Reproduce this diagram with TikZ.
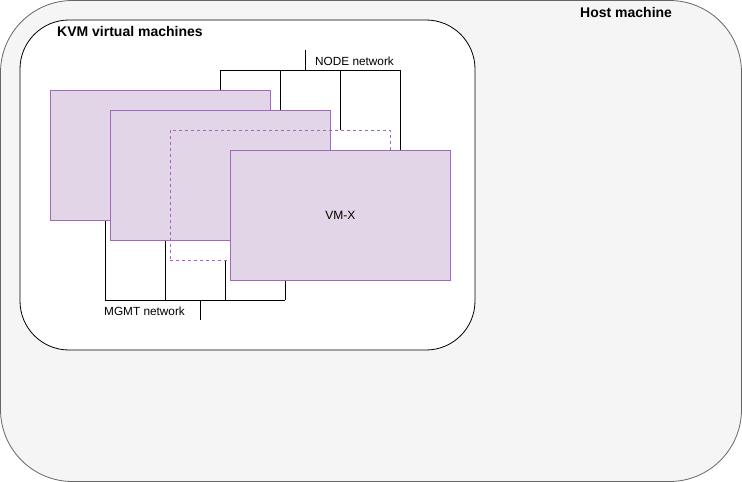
\documentclass[tikz,border=0pt]{standalone}
\usepackage{fontspec}
\setmainfont{Liberation Sans}
\begin{document}
\begin{tikzpicture}[x=1pt,y=-1pt,
  vmbox/.style={draw=vmstroke,fill=vmfill,line width=0.8pt,rectangle,minimum width=220pt,minimum height=130pt,anchor=north west,inner sep=0pt,font=\fontsize{12}{14}\selectfont},
  netline/.style={draw=black,line width=0.8pt},
  lbl/.style={font=\fontsize{11.8}{13}\selectfont,inner sep=0pt},
  ttl/.style={font=\bfseries\fontsize{14}{16}\selectfont,inner sep=0pt}]
\definecolor{vmfill}{HTML}{E1D5E7}
\definecolor{vmstroke}{HTML}{9673A6}
\definecolor{hostfill}{HTML}{F5F5F5}
\definecolor{hoststroke}{HTML}{666666}
\useasboundingbox (0,0) rectangle (742,482);
% host
\draw[fill=hostfill,draw=hoststroke,line width=0.8pt,rounded corners=72pt] (0.5,0.5) rectangle (741.5,481.5);
\node[ttl,anchor=west] (hostlbl) at (580,12) {Host machine};
% KVM
\draw[fill=white,draw=black,line width=0.8pt,rounded corners=49pt] (20,20) rectangle (475,350);
\node[ttl,anchor=west] (kvmlbl) at (57,31) {KVM virtual machines};
% network coordinates
\coordinate (nstem) at (305,50);
\coordinate (nbus) at (305,70);
\coordinate (n1) at (220,70);
\coordinate (n2) at (280,70);
\coordinate (n3) at (340,70);
\coordinate (n4) at (400,70);
\coordinate (mstem) at (200,320);
\coordinate (mbus) at (200,300);
\coordinate (m1) at (105,300);
\coordinate (m2) at (165,300);
\coordinate (m3) at (225,300);
\coordinate (m4) at (285,300);
% VMs
\node[vmbox] (vm1) at (50,90) {};
\node[vmbox] (vm2) at (110,110) {};
\node[vmbox,fill=none,dashed] (vm3) at (170,130) {};
\node[vmbox] (vm4) at (230,150) {VM-X};
% node network
\draw[netline] (nstem) -- (nbus);
\draw[netline] (n1) -- (n4);
\draw[netline] (n1) -- (vm1.north -| n1);
\draw[netline] (n2) -- (vm2.north -| n2);
\draw[netline] (n3) -- (vm3.north -| n3);
\draw[netline] (n4) -- (vm4.north -| n4);
\node[lbl,anchor=west] (nodelbl) at (315,61) {NODE network};
% mgmt network
\draw[netline] (mstem) -- (mbus);
\draw[netline] (m1) -- (m4);
\draw[netline] (m1) -- (vm1.south -| m1);
\draw[netline] (m2) -- (vm2.south -| m2);
\draw[netline] (m3) -- (vm3.south -| m3);
\draw[netline] (m4) -- (vm4.south -| m4);
\node[lbl,anchor=west] (mgmtlbl) at (104,311) {MGMT network};
\end{tikzpicture}
\end{document}
